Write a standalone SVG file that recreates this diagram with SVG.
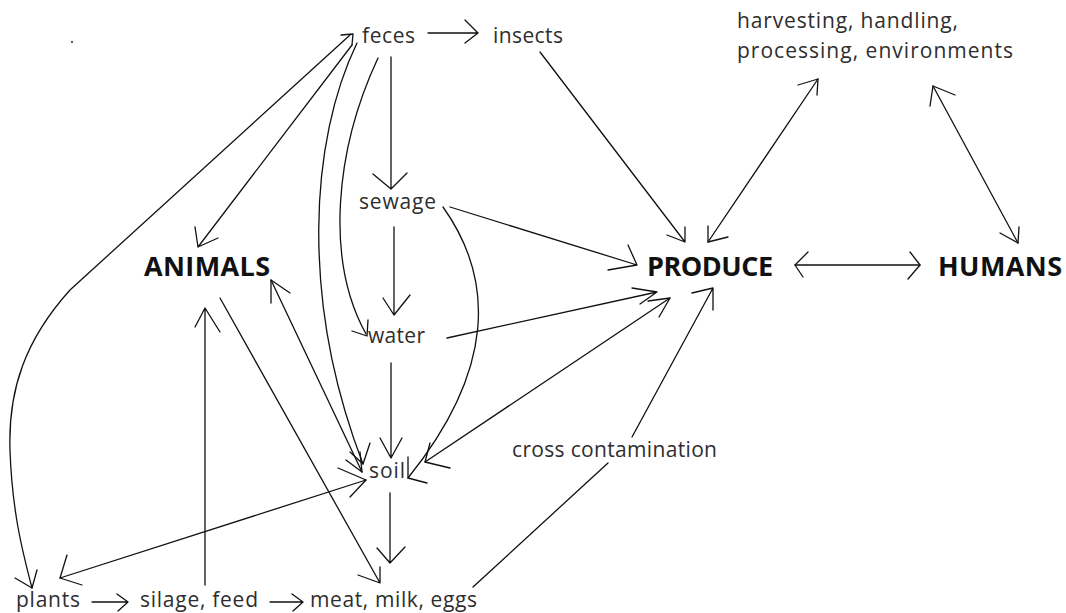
<svg xmlns="http://www.w3.org/2000/svg" width="1066" height="613" viewBox="0 0 1066 613">
<style>
.t{font-family:"Open Sans","Liberation Sans",sans-serif;font-size:21px;fill:#2e2e2e}
.b{font-family:"Open Sans","Liberation Sans",sans-serif;font-size:27px;font-weight:bold;fill:#111}
.c{fill:none;stroke:#111;stroke-width:1.3;stroke-linecap:round;stroke-linejoin:round}
</style>
<rect width="1066" height="613" fill="#fff"/>
<circle cx="72" cy="42" r="1.2" fill="#666"/>
<g id="connectors" class="c">
  <!-- feces -> insects -->
  <path d="M428,33 L478,33 M465,20 L478,33 L465,43"/>
  <!-- feces -> sewage -->
  <path d="M391,57 L391,189 M373,174 L391,189 L407,173"/>
  <!-- sewage -> water -->
  <path d="M394,227 L394,315 M383,298 L394,315 L410,295"/>
  <!-- water -> soil -->
  <path d="M391,363 L391,458 M380,438 L391,458 L402,438"/>
  <!-- soil -> meat -->
  <path d="M390,493 L390,563 M377,548 L390,563 L405,547"/>
  <!-- silage -> ANIMALS -->
  <path d="M205,585 L205,308 M195,327 L205,308 L220,332"/>
  <!-- plants -> silage -->
  <path d="M92,602 L128,602 M117,594 L128,602 L118,611"/>
  <!-- silage -> meat -->
  <path d="M270,602 L303,602 M292,594 L303,602 L293,611"/>
  <!-- feces <-> plants -->
  <path d="M350,35 L70,290 C25,340 8,390 10,450 C12,510 22,550 32,588"/>
  <path d="M15,578 L32,588 L37,570"/>
  <path d="M341,35 L353,34 L352,45"/>
  <!-- feces -> ANIMALS -->
  <path d="M352,45 L198,247 M195,227 L198,247 L218,238"/>
  <!-- feces -> soil (curve) -->
  <path d="M357,43 C310,140 300,300 363,464"/>
  <path d="M370,443 L363,464 L350,452"/>
  <!-- feces -> water (curve) -->
  <path d="M378,58 C335,150 325,260 366,334"/>
  <path d="M352,331 L367,336 L368,320"/>
  <!-- ANIMALS <-> soil -->
  <path d="M271,280 L362,472"/>
  <path d="M271,303 L271,280 L290,293"/>
  <path d="M360,452 L362,472 L346,460"/>
  <!-- ANIMALS -> meat -->
  <path d="M220,298 L380,583 M358,575 L380,583 L380,567"/>
  <!-- plants <-> soil -->
  <path d="M60,578 L366,480"/>
  <path d="M67,555 L60,578 L82,585"/>
  <path d="M338,468 L366,480 L350,497"/>
  <!-- sewage -> soil (curve) -->
  <path d="M443,207 C495,280 495,370 408,478"/>
  <path d="M408,457 L408,478 L427,483"/>
  <!-- insects -> PRODUCE -->
  <path d="M540,52 L685,242 M667,235 L685,242 L685,227"/>
  <!-- sewage -> PRODUCE -->
  <path d="M450,207 L637,265 M628,245 L637,265 L608,270"/>
  <!-- water -> PRODUCE -->
  <path d="M447,338 L657,292 M632,288 L657,292 L640,304"/>
  <!-- soil <-> PRODUCE -->
  <path d="M425,462 L670,298"/>
  <path d="M648,301 L670,298 L659,317"/>
  <path d="M430,443 L425,462 L450,468"/>
  <!-- meat -> cross contamination -->
  <path d="M473,587 L608,463"/>
  <!-- cross contamination -> PRODUCE -->
  <path d="M632,437 L713,288 M692,293 L713,288 L713,310"/>
  <!-- PRODUCE <-> harvesting -->
  <path d="M708,242 L818,79"/>
  <path d="M708,226 L708,242 L728,237"/>
  <path d="M798,85 L818,79 L817,95"/>
  <!-- HUMANS <-> harvesting -->
  <path d="M933,86 L1018,243"/>
  <path d="M930,106 L933,86 L955,95"/>
  <path d="M1000,233 L1018,243 L1019,227"/>
  <!-- PRODUCE <-> HUMANS -->
  <path d="M795,265 L920,265"/>
  <path d="M808,252 L795,265 L803,277"/>
  <path d="M910,252 L920,265 L908,279"/>
</g>
<g id="feces"><text class="t" x="362" y="43" textLength="53">feces</text></g>
<g id="insects"><text class="t" x="493" y="43" textLength="70">insects</text></g>
<g id="harvesting"><text class="t" x="737" y="28" textLength="221">harvesting, handling,</text><text class="t" x="737" y="58" textLength="276">processing, environments</text></g>
<g id="sewage"><text class="t" x="359" y="209" textLength="77">sewage</text></g>
<g id="animals"><text class="b" x="144" y="276" textLength="126">ANIMALS</text></g>
<g id="produce"><text class="b" x="647" y="276" textLength="126">PRODUCE</text></g>
<g id="humans"><text class="b" x="938" y="276" textLength="124">HUMANS</text></g>
<g id="water"><text class="t" x="368" y="343" textLength="57">water</text></g>
<g id="soil"><text class="t" x="369" y="478" textLength="36">soil</text></g>
<g id="cross"><text class="t" x="512" y="457" textLength="205">cross contamination</text></g>
<g id="plants"><text class="t" x="16" y="607" textLength="64">plants</text></g>
<g id="silage"><text class="t" x="140" y="607" textLength="118">silage, feed</text></g>
<g id="meat"><text class="t" x="310" y="607" textLength="167">meat, milk, eggs</text></g>
</svg>
